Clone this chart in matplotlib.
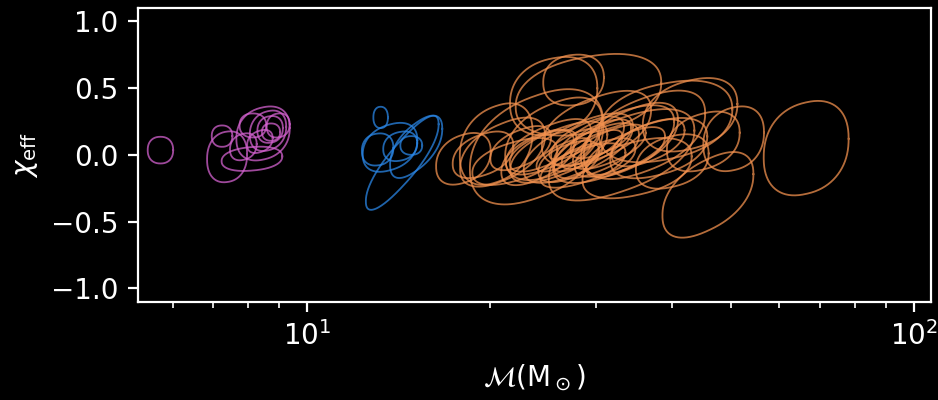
import numpy as np
import matplotlib.pyplot as plt

# -------------------------
# EVENT CONTOURS
# centre chirp mass, centre chi_eff, half-width in log10(Mc),
# half-height in chi_eff, tilt (correlation) of each contour
# -------------------------
pink_mc = [5.73, 7.38, 8.11, 7.24, 8.46, 8.62, 8.69, 8.72, 8.36, 7.85, 8.14, 8.96]
pink_chi = [0.035, -0.015, -0.03, 0.14, 0.16, 0.18, 0.19, 0.17, 0.10, 0.06, 0.22, 0.22]
pink_dlogm = [0.021, 0.033, 0.050, 0.017, 0.044, 0.030, 0.021, 0.015, 0.021, 0.022, 0.022, 0.019]
pink_dchi = [0.10, 0.19, 0.09, 0.08, 0.20, 0.15, 0.10, 0.065, 0.085, 0.10, 0.09, 0.09]
pink_rho = [0.0, 0.1, 0.2, 0.0, 0.2, 0.2, 0.1, 0.0, 0.3, 0.2, 0.0, 0.1]

blue_mc = [13.22, 14.35, 13.07, 14.24, 14.85, 15.13, 13.70]
blue_chi = [0.28, -0.06, 0.04, 0.064, 0.07, 0.06, 0.056]
blue_dlogm = [0.012, 0.060, 0.026, 0.028, 0.018, 0.043, 0.045]
blue_dchi = [0.08, 0.34, 0.12, 0.11, 0.07, 0.225, 0.18]
blue_rho = [0.0, 0.85, 0.1, 0.2, 0.0, 0.6, 0.3]

orange_mc = [18.1, 19.5, 21.0, 23.9, 25.5, 27.5, 29.1, 42.8, 50.5, 45.8, 66.5,
             26.0, 28.0, 30.0, 24.0, 32.0, 27.0, 29.0, 34.0, 36.0, 22.5, 31.0,
             33.0, 38.0, 40.0, 35.0, 30.0, 25.5, 39.0, 20.5, 28.5, 45.0, 22.0,
             26.5, 29.5, 31.5, 27.5, 24.5, 33.5, 28.0, 30.5, 25.0, 36.5]
orange_chi = [-0.03, 0.00, 0.02, 0.06, 0.44, 0.56, 0.45, 0.30, 0.12, -0.30, 0.05,
              0.02, 0.05, 0.03, -0.02, 0.08, -0.05, 0.10, 0.12, 0.15, 0.05, -0.02,
              0.00, 0.05, -0.05, -0.10, 0.20, 0.12, 0.25, 0.08, -0.08, 0.10, -0.05,
              0.00, 0.04, 0.06, 0.08, 0.03, 0.02, -0.02, 0.12, 0.06, 0.09]
orange_dlogm = [0.045, 0.050, 0.070, 0.110, 0.072, 0.050, 0.120, 0.078, 0.050, 0.075, 0.070,
                0.080, 0.090, 0.070, 0.060, 0.100, 0.050, 0.060, 0.080, 0.100, 0.050, 0.050,
                0.120, 0.080, 0.060, 0.090, 0.090, 0.080, 0.110, 0.060, 0.070, 0.060, 0.070,
                0.045, 0.050, 0.060, 0.040, 0.055, 0.065, 0.040, 0.050, 0.070, 0.060]
orange_dchi = [0.19, 0.17, 0.25, 0.42, 0.29, 0.19, 0.30, 0.27, 0.24, 0.31, 0.35,
               0.22, 0.25, 0.20, 0.20, 0.28, 0.15, 0.18, 0.26, 0.32, 0.16, 0.14,
               0.33, 0.22, 0.20, 0.22, 0.27, 0.30, 0.30, 0.30, 0.16, 0.22, 0.17,
               0.12, 0.14, 0.16, 0.11, 0.15, 0.18, 0.10, 0.14, 0.20, 0.17]
orange_rho = [0.3, 0.4, 0.5, 0.4, 0.2, 0.1, 0.3, 0.3, 0.2, 0.5, 0.2,
              0.6, 0.65, 0.6, 0.55, 0.6, 0.5, 0.6, 0.55, 0.5, 0.5, 0.5,
              0.55, 0.4, 0.3, 0.4, 0.5, 0.45, 0.3, 0.3, 0.6, 0.3, 0.5,
              0.7, 0.7, 0.65, 0.7, 0.6, 0.65, 0.7, 0.6, 0.6, 0.55]

groups = [
    (pink_mc, pink_chi, pink_dlogm, pink_dchi, pink_rho, "#d462d0"),
    (blue_mc, blue_chi, blue_dlogm, blue_dchi, blue_rho, "#2a86e6"),
    (orange_mc, orange_chi, orange_dlogm, orange_dchi, orange_rho, "#f2914f"),
]

# -------------------------
# PLOT
# -------------------------
plt.style.use("dark_background")

fig = plt.figure(figsize=(4.69, 2.0), dpi=200)
ax = fig.add_axes([0.147, 0.246, 0.846, 0.734])

# loops a little fuller than an ellipse, like KDE credible contours
t = np.linspace(0, 2 * np.pi, 240)
c = np.sign(np.cos(t)) * np.abs(np.cos(t)) ** 0.88
s = np.sign(np.sin(t)) * np.abs(np.sin(t)) ** 0.88

for mc, chi, dlogm, dchi, rho, color in groups:
    for i in range(len(mc)):
        logm = np.log10(mc[i]) + dlogm[i] * c
        y = chi[i] + dchi[i] * (rho[i] * c + np.sqrt(1 - rho[i] ** 2) * s)
        ax.plot(10 ** logm, y, color=color, lw=0.65, alpha=0.75)

ax.set_xscale("log")
ax.set_xlim(5.26, 107)
ax.set_ylim(-1.1, 1.1)
ax.set_yticks([-1.0, -0.5, 0.0, 0.5, 1.0])

ax.set_xlabel(r"$\mathcal{M}(\mathrm{M}_\odot)$")
ax.set_ylabel(r"$\chi_{\rm eff}$")

fig.savefig("out.png", dpi=200, facecolor="black")
